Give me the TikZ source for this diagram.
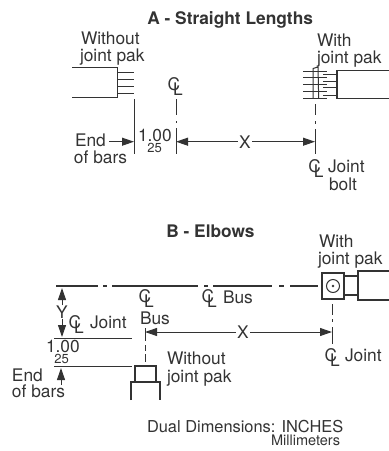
\documentclass[tikz,border=0pt]{standalone}
\usepackage{fontspec}
\setmainfont{TeX Gyre Heros}
\usetikzlibrary{arrows.meta}
\definecolor{ink}{gray}{0.2}
\tikzset{
  ln/.style={draw=ink,line width=0.75pt},
  tk/.style={draw=ink,line width=1.05pt},
  ar/.style={draw=ink,line width=0.75pt,-{Triangle[length=9pt,width=6pt]}},
  lbl/.style={anchor=base west,inner sep=0pt,outer sep=0pt,text=ink,font=\fontsize{13}{15}\selectfont},
  ttl/.style={anchor=base west,inner sep=0pt,text=ink,font=\fontsize{13}{15}\bfseries\selectfont},
  sub/.style={anchor=base west,inner sep=0pt,text=ink,font=\fontsize{9.8}{11}\selectfont},
  cen/.style={anchor=center,inner sep=0pt,text=ink,font=\fontsize{13}{15}\selectfont},
}
\newcommand{\CL}[2]{%
  \node[cen] at (#1-2,#2-2.4) {C};
  \node[cen] at (#1+2,#2+2.4) {L};}
\begin{document}
\begin{tikzpicture}[x=0.75pt,y=-0.75pt]
\useasboundingbox (0,0) rectangle (389,451);
% Section A
\node[ttl] (ta) at (147,24) {A - Straight Lengths};
\node[lbl] (w1) at (81,44) {Without};
\node[lbl] (w2) at (80,61) {joint pak};
\draw[tk] (72,67.7) -- (117.7,67.7) -- (117.7,97.7) -- (72,97.7);
\foreach \y in {72.7,79.3,86,93.3} \draw[ln] (117.7,\y) -- (134,\y);
\coordinate (ae1) at (134,99); \coordinate (ae2) at (134,154);
\draw[ln] (ae1) -- (ae2);
\CL{176}{87}
\draw[ln] (176,99) -- (176,115) (176,121) -- (176,123) (176,128) -- (176,154);
\coordinate (aes) at (109,141.7); \coordinate (aet) at (134,141.7);
\draw[ar] (aes) -- (aet);
\node[lbl] (e1) at (75,146) {End};
\node[lbl] (e2) at (74,163) {of bars};
\node[lbl] (d1) at (138,141) {1.00};
\node[sub] (d2) at (147,152) {25};
\node[cen] (xa) at (245,141.7) {X};
\coordinate (acl) at (176,141.7); \coordinate (ajt) at (315,141.7);
\draw[ar] (xa.west) ++(-1,0) -- (acl);
\draw[ar] (xa.east) ++(1,0) -- (ajt);
\draw[ln] (315,104) -- (315,115) (315,121) -- (315,124) (315,129) -- (315,154);
\node[lbl] (w3) at (317,46) {With};
\node[lbl] (w4) at (317,63) {joint pak};
\draw[tk] (389,70.7) -- (337,70.7) -- (337,98.3) -- (389,98.3);
\foreach \y in {71.5,77.7,84.3,91,98} \draw[ln] (303,\y) -- (327,\y);
\foreach \y in {74.5,81,87.7,95} \draw[ln] (323,\y) -- (337,\y);
\draw[ln] (313,98.5) -- (313,68.5) -- (318,67) -- (318.7,98.5);
\CL{316.7}{168.7}
\node[lbl] (j1) at (328,172) {Joint};
\node[lbl] (j2) at (329,190) {bolt};
% Section B
\node[ttl] (tb) at (166,237) {B - Elbows};
\draw[tk] (56,286) -- (98,286) (103,286) -- (107,286) (112,286) -- (198,286) (204,286) -- (208,286) (213,286) -- (272,286) (279,286) -- (284,286) (290,286) -- (318,286);
\draw[tk] (322,273) rectangle (344,299);
\draw[ln] (333,286) circle (6.5);
\fill[ink] (333,286) circle (1.4);
\draw[tk] (344,276) -- (358,276) (344,295) -- (358,295);
\draw[tk] (389,271) -- (358,271) -- (358,300) -- (389,300);
\node[lbl] (w5) at (319,247) {With};
\node[lbl] (w6) at (318,264) {joint pak};
\draw[ln] (332,304) -- (332,315) (332,319) -- (332,322) (332,327) -- (332,344);
\CL{333}{358}
\node[lbl] (j3) at (345,361) {Joint};
\node[cen] (xb) at (243,332) {X};
\coordinate (bcl) at (145,332); \coordinate (bjt) at (332,332);
\draw[ar] (xb.west) ++(-1,0) -- (bcl);
\draw[ar] (xb.east) ++(1,0) -- (bjt);
\draw[ln] (145,328) -- (145,341) (145,345) -- (145,351) (145,354) -- (145,362);
\CL{147}{298.7}
\node[lbl] (b1) at (140,324) {Bus};
\CL{210}{299}
\node[lbl] (b2) at (223,303) {Bus};
\node[cen] (yy) at (62,312) {Y};
\draw[ar] (yy.north) -- (62,288);
\draw[ar] (yy.south) -- (62,337);
\draw[ln] (54,338) -- (132,338);
\draw[ln] (54,366) -- (132,366);
\draw[ar] (61,385) -- (61,368);
\CL{77}{325}
\node[lbl] (j4) at (90,328) {Joint};
\node[lbl] (d3) at (46,352) {1.00};
\node[sub] (d4) at (54,363) {25};
\draw[tk] (135,382) -- (135,366) -- (156,366) -- (156,382);
\draw[tk] (131,400) -- (131,382) -- (160,382) -- (160,400);
\node[lbl] (w7) at (167,364) {Without};
\node[lbl] (w8) at (167,382) {joint pak};
\node[lbl] (e3) at (12,381) {End};
\node[lbl] (e4) at (12,397) {of bars};
\node[lbl,font=\fontsize{12.3}{15}\selectfont] (dd) at (147,432) {Dual Dimensions: INCHES};
\node[lbl,font=\fontsize{10.9}{13}\selectfont] (mm) at (271,445.5) {Millimeters};
\end{tikzpicture}
\end{document}
